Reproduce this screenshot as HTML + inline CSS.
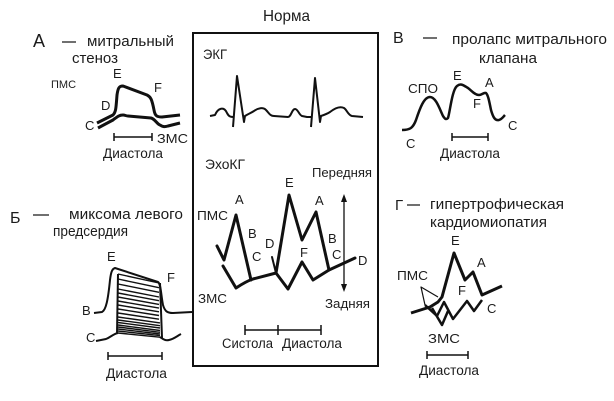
<!DOCTYPE html>
<html>
<head>
<meta charset="utf-8">
<style>
html,body{margin:0;padding:0;background:#fff;}
svg{display:block;}
text{font-family:"Liberation Sans","DejaVu Sans",sans-serif;fill:#1c1c1c;}
</style>
</head>
<body>
<svg width="614" height="401" viewBox="0 0 614 401" xmlns="http://www.w3.org/2000/svg">
<rect width="614" height="401" fill="#fff"/>

<!-- Title -->
<text x="263" y="21" font-size="16" textLength="47" lengthAdjust="spacingAndGlyphs">Норма</text>

<!-- Central box -->
<rect x="193" y="33" width="185" height="333" fill="none" stroke="#111" stroke-width="2"/>
<text x="203" y="59" font-size="14" textLength="24" lengthAdjust="spacingAndGlyphs">ЭКГ</text>
<!-- ECG -->
<g fill="none" stroke="#111" stroke-width="2" stroke-linejoin="round">
<path d="M210,116 L215,115 C218,108 224,106 227,113 C229,117 231,117 234,117"/>
<path d="M233,127 L237,76 L244,122 L245,116 C248,114 251,113 254,111 C258,108 263,107 266,110 C269,113 270,116 274,116 L288,117 C291,117 292,109 295,109 C298,109 299,115 302,116 L307,117 L312,117"/>
<path d="M311,127 L315,78 L320,122 L321,116 C324,115 327,114 330,112 C335,108 340,106 344,108 C347,110 348,115 352,116 L363,117"/>
</g>

<text x="205" y="169" font-size="14" textLength="40" lengthAdjust="spacingAndGlyphs">ЭхоКГ</text>
<text x="312" y="177" font-size="13" textLength="60" lengthAdjust="spacingAndGlyphs">Передняя</text>
<text x="325" y="308" font-size="13" textLength="45" lengthAdjust="spacingAndGlyphs">Задняя</text>
<text x="197" y="220" font-size="13" textLength="31" lengthAdjust="spacingAndGlyphs">ПМС</text>
<text x="198" y="303" font-size="13" textLength="29" lengthAdjust="spacingAndGlyphs">ЗМС</text>
<g font-size="13">
<text x="235" y="204">A</text>
<text x="248" y="238">B</text>
<text x="252" y="261">C</text>
<text x="265" y="248">D</text>
<text x="285" y="187">E</text>
<text x="315" y="205">A</text>
<text x="300" y="257">F</text>
<text x="328" y="243">B</text>
<text x="332" y="259">C</text>
<text x="358" y="265">D</text>
</g>
<!-- Echo curves -->
<g fill="none" stroke="#111" stroke-width="3" stroke-linejoin="round" stroke-linecap="round">
<path d="M217,246 L224,260 L236,215 L251,280"/>
<path d="M223,266 L236,288 C242,284 247,281 253,279 L276,273 L289,195 L302,240 L316,212 L329,270 L355,258"/>
<path d="M276,273 L288,289 L302,262 L313,280 L329,270"/>
<path d="M272,257 L276,273" stroke-width="2"/>
</g>
<!-- Arrow -->
<line x1="344" y1="200" x2="344" y2="287" stroke="#111" stroke-width="1.3"/>
<polygon points="344,194 341,202 347,202" fill="#111"/>
<polygon points="344,292 341,284 347,284" fill="#111"/>
<!-- Systole/diastole scale -->
<g stroke="#111" stroke-width="1.5">
<line x1="245" y1="330" x2="321" y2="330"/>
<line x1="245" y1="325" x2="245" y2="335"/>
<line x1="278" y1="325" x2="278" y2="335"/>
<line x1="321" y1="325" x2="321" y2="335"/>
</g>
<text x="222" y="348" font-size="13.5" textLength="51" lengthAdjust="spacingAndGlyphs">Систола</text>
<text x="282" y="348" font-size="13.5" textLength="60" lengthAdjust="spacingAndGlyphs">Диастола</text>

<!-- Panel A -->
<text x="33" y="47" font-size="18">А</text>
<line x1="62" y1="42" x2="76" y2="42" stroke="#222" stroke-width="1.3"/>
<text x="87" y="46" font-size="15" textLength="87" lengthAdjust="spacingAndGlyphs">митральный</text>
<text x="72" y="63" font-size="15" textLength="46" lengthAdjust="spacingAndGlyphs">стеноз</text>
<text x="51" y="88" font-size="11">ПМС</text>
<g font-size="13">
<text x="113" y="78">E</text>
<text x="154" y="92">F</text>
<text x="101" y="110">D</text>
<text x="85" y="130">C</text>
</g>
<text x="157" y="143" font-size="13" textLength="31" lengthAdjust="spacingAndGlyphs">ЗМС</text>
<text x="103" y="158" font-size="13.5" textLength="60" lengthAdjust="spacingAndGlyphs">Диастола</text>
<g fill="none" stroke="#111" stroke-width="3" stroke-linejoin="round">
<path d="M97,123 L113,115 C116,112 116,108 117,95 C118,88 119,86 123,86 L147,95 C151,97 152,100 154,110 C155,116 157,117 162,117 L180,115"/>
<path d="M98,128 L113,120 C117,117 119,115 123,115 C125,115 126,116 128,116 L151,118 C155,119 157,124 160,125 C163,127 165,127 168,126 L180,123"/>
</g>
<g stroke="#111" stroke-width="1.5">
<line x1="114" y1="137" x2="152" y2="137"/>
<line x1="114" y1="133" x2="114" y2="141"/>
<line x1="152" y1="133" x2="152" y2="141"/>
</g>

<!-- Panel Б -->
<text x="10" y="223" font-size="16">Б</text>
<line x1="33" y1="215" x2="49" y2="215" stroke="#222" stroke-width="1.3"/>
<text x="69" y="219" font-size="15" textLength="114" lengthAdjust="spacingAndGlyphs">миксома левого</text>
<text x="53" y="236" font-size="15" textLength="75" lengthAdjust="spacingAndGlyphs">предсердия</text>
<g font-size="13">
<text x="107" y="261">E</text>
<text x="167" y="282">F</text>
<text x="82" y="315">B</text>
<text x="86" y="342">C</text>
</g>
<text x="106" y="378" font-size="13.5" textLength="61" lengthAdjust="spacingAndGlyphs">Диастола</text>
<g fill="none" stroke="#111" stroke-width="2" stroke-linejoin="round">
<path d="M94,313 L102,312 C106,310 108,300 110,280 C111,272 112,269 115,268 L158,282 C161,284 161,295 163,305 C165,312 168,313 173,313 L192,312"/>
<path d="M96,341 L106,339 C111,337 113,334 118,333"/>
<path d="M160,337 C163,339 165,341 169,340 C174,339 177,336 181,334"/>
<path d="M118,274 L117,334"/>
<path d="M160,283 L162,338"/>
</g>
<g fill="none" stroke="#111" stroke-width="1.4">
<path d="M118,274 L159,283"/>
<path d="M118,279 L159,287.7"/>
<path d="M118,284 L159,292.3"/>
<path d="M118,289 L159,297"/>
<path d="M118,293 L159,300.7"/>
<path d="M118,297 L159,304.4"/>
<path d="M118,301 L159,308.1"/>
<path d="M118,305 L159,311.8"/>
<path d="M118,309 L159,315.5"/>
<path d="M118,313 L159,319.2"/>
<path d="M118,317 L160,322.9"/>
<path d="M118,320 L160,325.7"/>
<path d="M118,322.5 L160,328"/>
<path d="M118,325 L160,330.5"/>
<path d="M118,327 L160,332.3"/>
<path d="M118,329 L160,334"/>
<path d="M118,331 L160,335.6"/>
<path d="M118,333 L160,337.2"/>
</g>
<g stroke="#111" stroke-width="1.5">
<line x1="108" y1="356" x2="162" y2="356"/>
<line x1="108" y1="352" x2="108" y2="360"/>
<line x1="162" y1="352" x2="162" y2="360"/>
</g>

<!-- Panel В -->
<text x="393" y="43" font-size="16">В</text>
<line x1="423" y1="38" x2="437" y2="38" stroke="#222" stroke-width="1.3"/>
<text x="452" y="44" font-size="15" textLength="155" lengthAdjust="spacingAndGlyphs">пролапс митрального</text>
<text x="479" y="63" font-size="15" textLength="58" lengthAdjust="spacingAndGlyphs">клапана</text>
<text x="408" y="93" font-size="13" textLength="30" lengthAdjust="spacingAndGlyphs">СПО</text>
<g font-size="13">
<text x="453" y="80">E</text>
<text x="485" y="87">A</text>
<text x="473" y="108">F</text>
<text x="406" y="148">C</text>
<text x="508" y="130">C</text>
</g>
<text x="440" y="158" font-size="13.5" textLength="60" lengthAdjust="spacingAndGlyphs">Диастола</text>
<path d="M402,130 C410,130 413,128 416,120 C420,108 424,97 430,97 C436,97 440,110 443,116 C445,119 446,120 448,118 C450,112 452,90 457,86 C461,83 463,85 468,88 C472,91 475,95 479,95 C482,95 484,92 486,93 C488,95 489,100 491,110 C493,117 495,121 499,120 C502,119 503,117 505,115" fill="none" stroke="#111" stroke-width="2.5" stroke-linejoin="round"/>
<g stroke="#111" stroke-width="1.5">
<line x1="452" y1="137" x2="488" y2="137"/>
<line x1="452" y1="133" x2="452" y2="141"/>
<line x1="488" y1="133" x2="488" y2="141"/>
</g>

<!-- Panel Г -->
<text x="395" y="210" font-size="15">Г</text>
<line x1="407" y1="205" x2="420" y2="205" stroke="#222" stroke-width="1.3"/>
<text x="430" y="209" font-size="15" textLength="134" lengthAdjust="spacingAndGlyphs">гипертрофическая</text>
<text x="430" y="227" font-size="15" textLength="117" lengthAdjust="spacingAndGlyphs">кардиомиопатия</text>
<g font-size="13">
<text x="451" y="245">E</text>
<text x="477" y="267">A</text>
<text x="458" y="295">F</text>
<text x="487" y="313">C</text>
</g>
<text x="397" y="280" font-size="13" textLength="31" lengthAdjust="spacingAndGlyphs">ПМС</text>
<text x="428" y="343" font-size="13" textLength="32" lengthAdjust="spacingAndGlyphs">ЗМС</text>
<text x="419" y="375" font-size="13.5" textLength="60" lengthAdjust="spacingAndGlyphs">Диастола</text>
<g fill="none" stroke="#111" stroke-linejoin="round">
<path d="M411,313 L430,307 L438,302 L442,297 L454,253 L465,280 L473,272 L482,295 L502,286" stroke-width="3"/>
<path d="M438,297 L421,287 L425,305" stroke-width="1.2"/>
<path d="M425,305 L437,316 L444,302 L453,319 L467,301 L474,311 L482,300" stroke-width="2.5"/>
<path d="M432,308 L442,325 L448,311" stroke-width="2.5"/>
</g>
<g stroke="#111" stroke-width="1.5">
<line x1="427" y1="355" x2="468" y2="355"/>
<line x1="427" y1="351" x2="427" y2="359"/>
<line x1="468" y1="351" x2="468" y2="359"/>
</g>
</svg>
</body>
</html>
